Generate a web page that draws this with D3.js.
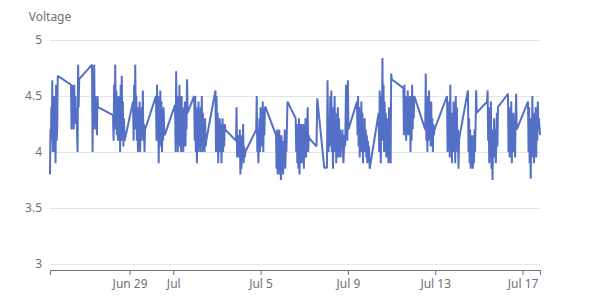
<!DOCTYPE html>
<html>
<head>
<meta charset="utf-8">
<script src="https://cdn.jsdelivr.net/npm/d3@7"></script>
<style>
  body { margin: 0; background: #fff; }
  svg text { font-family: "Noto Sans", sans-serif; }
</style>
</head>
<body>
<div id="vis"></div>
<script>
// readings: [hours since startDate, voltage]
let startDate = new Date(2023, 5, 25, 0, 0)

let readings = [
  [8.5,3.8],[9.0,4.2],[9.5,4.1],[10,4.4],[10.5,4.1],[11,4.64],[11.5,4.0],[12,4.3],[12.5,4.1],[13,4.5],[13.5,4.0],[14,4.35],[14.6,3.9],[15.2,4.6],[15.8,4.1],[16.4,4.2],[17,4.68],
  [31.6,4.6],[32.2,4.2],[32.8,4.6],[33.4,4.25],[34,4.55],[34.6,4.2],[35.2,4.6],[35.8,4.3],[36.4,4.5],[37,4.25],[37.6,4.4],[38.2,4.2],[38.8,4.0],[39.4,4.78],[40,4.4],[40.6,4.65],
  [54.7,4.78],[55.3,4.0],[55.9,4.5],[56.5,4.2],[57.1,4.78],[57.7,4.3],[58.3,4.5],[58.9,4.2],[59.5,4.45],[60.1,4.15],[60.7,4.5],[61.3,4.4],
  [77.8,4.33],[78.4,4.1],[79,4.6],[79.6,4.2],[80.2,4.78],[80.8,4.3],[81.4,4.55],[82,4.15],[82.6,4.45],[83.2,4.1],[83.8,4.5],[84.4,4.2],[85,4.4],[85.6,4.0],[86.2,4.6],[86.8,4.1],[87.4,4.68],[88,4.2],[88.6,4.45],[89.2,4.05],[89.8,4.3],[90.5,4.1],
  [99.8,4.45],[100.4,4.1],[101,4.6],[101.6,4.2],[102.2,4.78],[102.8,4.3],[103.4,4.5],[104,4.1],[104.6,4.4],[105.2,4.0],[105.8,4.3],[106.4,4.05],[107,4.45],[107.6,4.0],[108.2,4.3],[108.8,4.1],[109.4,4.4],[110,4.2],[110.6,4.55],[111.2,4.1],[111.8,4.25],[112.4,4.0],[113,4.2],
  [125,4.5],[125.6,4.1],[126.2,4.6],[126.8,4.2],[127.4,4.5],[128,3.9],[128.6,4.4],[129.2,4.05],[129.8,4.55],[130.4,4.15],[131,4.45],[131.6,4.0],[132.2,4.3],[132.8,4.1],[133.4,4.4],[134,4.2],[134.6,4.15],
  [146,4.42],[146.6,4.0],[147.2,4.72],[147.8,4.2],[148.4,4.5],[149,4.0],[149.6,4.4],[150.2,4.1],[150.8,4.6],[151.4,4.05],[152,4.35],[152.6,4.0],[153.2,4.5],[153.8,4.2],[154.4,4.4],[155,4.0],[155.6,4.3],[156.2,4.1],[156.8,4.45],[157.4,4.05],[158,4.3],[158.6,4.2],[159.2,4.65],[159.8,4.35],
  [167,4.5],[167.6,4.1],[168.2,4.5],[168.8,4.0],[169.4,4.4],[170,3.9],[170.6,4.3],[171.2,4.0],[171.8,4.45],[172.4,4.05],[173,4.3],[173.6,4.0],[174.2,4.4],[174.8,4.1],[175.4,4.5],[176,4.0],[176.6,4.35],[177.2,4.05],[177.8,4.2],[178.4,4.0],[179,4.3],[179.6,4.05],[180.2,4.1],
  [190.4,4.55],[191,4.0],[191.6,4.5],[192.2,4.1],[192.8,4.35],[193.4,3.9],[194,4.2],[194.6,4.0],[195.2,4.3],[195.8,4.05],[196.4,4.25],[197,3.9],[197.6,4.1],[198.2,4.3],[198.8,4.0],[199.4,4.2],[200,4.05],[200.6,4.25],[201.2,4.2],
  [213,4.1],[213.6,4.4],[214.2,3.95],[214.8,4.1],[215.4,4.05],[216,4.15],[216.6,3.95],[217.2,4.2],[217.8,3.8],[218.4,4.1],[219,3.85],[219.6,4.15],[220.2,4.0],[220.8,4.25],[221.4,3.9],[222,4.05],[222.6,3.95],[223.2,4.0],
  [235.2,4.2],[235.8,4.5],[236.4,4.0],[237,4.2],[237.6,3.9],[238.2,4.1],[238.8,4.3],[239.4,4.0],[240,4.4],[240.6,4.05],[241.2,4.3],[241.8,4.1],[242.4,4.45],[243,4.0],[243.6,4.35],[244.2,4.15],[244.8,4.4],[245.4,4.4],
  [257,4.15],[257.6,3.85],[258.2,4.2],[258.8,3.8],[259.4,4.1],[260,3.85],[260.6,4.2],[261.2,3.8],[261.8,4.05],[262.4,3.75],[263,4.15],[263.6,3.85],[264.2,4.0],[264.8,3.8],[265.4,4.1],[266,3.9],[266.6,4.2],[267.2,3.85],[267.8,4.1],[268.4,4.0],[269.6,4.45],
  [278.6,4.3],[279.2,4.0],[279.8,4.25],[280.4,3.9],[281,4.2],[281.6,3.85],[282.2,4.3],[282.8,3.8],[283.4,4.1],[284,3.95],[284.6,4.25],[285.2,3.9],[285.8,4.2],[286.4,4.0],[287,4.25],[287.6,3.85],[288.2,4.15],[288.8,4.05],[289.4,4.3],[290,3.95],[290.6,4.2],[291.2,4.1],[291.8,4.4],[292.4,4.0],[293,4.15],[293.6,4.12],
  [301.5,4.05],[302.3,4.48],[310,3.86],[313,3.86],
  [313.6,4.64],[314.2,4.2],[314.8,4.0],[315.4,4.3],[316,4.05],[316.6,4.5],[317.2,4.1],[317.8,4.55],[318.4,4.0],[319,4.4],[319.6,3.85],[320.2,4.3],[320.8,4.0],[321.4,4.5],[322,4.1],[322.6,4.35],[323.2,3.9],[323.8,4.25],[324.4,4.0],[325,4.4],[325.6,3.95],[326.2,4.3],[326.8,4.05],[327.4,4.2],[328,3.95],[328.6,4.15],[329.2,4.05],
  [330,4.2],[331,3.9],[332.4,4.15],[333,4.05],[334,4.6],[335.4,4.1],[336,4.64],[336.6,4.2],
  [346,4.45],[346.6,4.15],[347.2,4.5],[347.8,4.05],[348.4,4.4],[349,3.95],[349.6,4.3],[350.2,4.0],[350.8,4.45],[351.4,4.1],[352,4.35],[352.6,3.9],[353.2,4.25],[353.8,4.0],[354.4,4.3],[355,4.05],[355.6,4.2],[356.2,3.95],[356.8,4.15],[357.4,3.9],[358,4.1],[358.6,3.95],[359.2,4.05],[360,3.85],
  [369.8,4.35],[370.4,4.0],[371,4.55],[371.6,4.1],[372.2,3.9],[372.8,4.5],[373.4,4.2],[374,4.84],[374.6,4.1],[375.2,4.6],[375.8,4.0],[376.4,4.45],[377,4.1],[377.6,4.35],[378.2,3.95],[378.8,4.3],[379.4,4.05],[380,4.25],[380.6,3.9],[381.2,4.4],[381.8,4.1],[382.4,4.2],[383,3.9],[383.6,4.7],[384.2,4.65],
  [397,4.57],[397.6,4.15],[398.2,4.6],[398.8,4.2],[399.4,4.5],[400,4.1],[400.6,4.4],[401.2,4.2],[401.8,4.55],[402.4,4.15],[403,4.35],[403.6,4.2],[404.2,4.5],[404.8,4.0],[405.4,4.3],[406,4.1],[406.6,4.6],[407.2,4.2],[407.8,4.45],[408.4,4.3],[409,4.5],
  [421,4.2],[421.6,4.7],[422.2,4.1],[422.8,4.5],[423.4,4.0],[424,4.4],[424.6,4.1],[425.2,4.55],[425.8,4.15],[426.4,4.3],[427,4.05],[427.6,4.45],[428.2,4.1],[428.8,4.3],[429.4,4.0],[430,4.25],[430.6,4.15],[431.2,4.2],
  [445,4.5],[445.6,4.0],[446.2,4.4],[446.8,4.1],[447.4,4.45],[448,3.95],[448.6,4.6],[449.2,4.05],[449.8,4.35],[450.4,3.9],[451,4.3],[451.6,4.0],[452.2,4.45],[452.8,4.1],[453.4,4.3],[454,3.9],[454.6,4.5],[455.2,4.05],[455.8,4.4],[456.4,4.0],[457,4.2],[457.6,3.85],[458.2,4.1],[459,4.15],
  [468,4.55],[468.6,4.0],[469.2,4.3],[469.8,3.9],[470.4,4.2],[471,3.85],[471.6,4.1],[472.2,3.9],[472.8,4.15],[473.4,3.85],[474,4.05],[474.6,3.9],[475.2,4.2],[475.8,4.0],[476.4,4.25],[477,4.55],[477.6,4.35],
  [489,4.45],[489.6,4.55],[490.2,4.1],[490.8,4.4],[491.4,3.9],[492,4.3],[492.6,4.0],[493.2,4.45],[493.8,3.85],[494.4,4.2],[495,3.75],[495.6,4.1],[496.2,3.95],[496.8,4.3],[497.4,4.0],[498,4.2],[498.6,3.9],[499.2,4.1],[499.8,4.35],[500.4,4.05],[501,4.4],
  [512,4.52],[512.6,4.0],[513.2,4.4],[513.8,3.95],[514.4,4.3],[515,4.05],[515.6,4.45],[516.2,3.9],[516.8,4.25],[517.4,4.0],[518,4.35],[518.6,4.1],[519.2,4.2],[519.8,3.95],[520.4,4.3],[521,4.52],[521.6,4.2],
  [534,4.45],[534.6,4.0],[535.2,4.4],[535.8,3.9],[536.4,4.3],[537,3.76],[537.6,4.2],[538.2,3.95],[538.8,4.5],[539.4,4.0],[540,4.35],[540.6,3.9],[541.2,4.25],[541.8,4.05],[542.4,4.4],[543,3.95],[543.6,4.3],[544.2,4.1],[544.8,4.45],[545.4,4.2],[546,4.3],[547.2,4.15]
]

let tickDates = [new Date(2023,5,29), new Date(2023,6,1), new Date(2023,6,5), new Date(2023,6,9), new Date(2023,6,13), new Date(2023,6,17)]
let yTicks = [3, 3.5, 4, 4.5, 5]
let yName = 'Voltage'

let data = readings.map(d => ({
  time: d3.timeHour.offset(startDate, 0).getTime() + d[0] * 3600 * 1000,
  value: d[1]
}))

let margin = {top: 40, right: 60, bottom: 30, left: 50},
    width = 600 - margin.left - margin.right,
    height = 300 - margin.top - margin.bottom

let svg = d3.select('#vis')
  .append('svg')
  .attr('width', 600)
  .attr('height', 300)

let g = svg.append('g')
  .attr('transform', `translate(${margin.left},${margin.top})`)

let xScale = d3.scaleTime()
  .domain(d3.extent(data, d => d.time))
  .range([0, width])

let yScale = d3.scaleLinear()
  .domain([2.946, 5])
  .range([height, 0])

// grid lines
g.selectAll('.grid')
  .data(yTicks)
  .join('line')
  .attr('class', 'grid')
  .attr('x1', 0)
  .attr('x2', width)
  .attr('y1', d => Math.round(yScale(d)) + 0.5)
  .attr('y2', d => Math.round(yScale(d)) + 0.5)
  .attr('stroke', '#E0E6F1')

// y labels
g.selectAll('.ylab')
  .data(yTicks)
  .join('text')
  .attr('class', 'ylab')
  .attr('x', -8)
  .attr('y', d => yScale(d))
  .attr('dy', '0.35em')
  .attr('text-anchor', 'end')
  .attr('font-size', 12)
  .attr('fill', '#6E7079')
  .text(d => d)

g.append('text')
  .attr('x', 0)
  .attr('y', -19)
  .attr('text-anchor', 'middle')
  .attr('font-size', 12)
  .attr('fill', '#6E7079')
  .text(yName)

// x axis
let fmt = d => d.getDate() === 1 ? d3.timeFormat('%b')(d) : d3.timeFormat('%b %-d')(d)
let xAxis = g.append('g')
  .attr('transform', `translate(0,${height})`)
  .call(d3.axisBottom(xScale).tickValues(tickDates).tickFormat(fmt).tickSizeOuter(0).tickSize(5).tickPadding(4))

xAxis.select('.domain').attr('stroke', '#6E7079')
xAxis.selectAll('.tick line').attr('stroke', '#6E7079')
xAxis.selectAll('.tick text')
  .attr('fill', '#6E7079')
  .attr('font-size', 12)
  .attr('font-family', '"Noto Sans", sans-serif')

let line = d3.line()
  .x(d => xScale(d.time))
  .y(d => yScale(d.value))

g.append('path')
  .datum(data)
  .attr('d', line)
  .attr('fill', 'none')
  .attr('stroke', '#5470c6')
  .attr('stroke-width', 2)
  .attr('stroke-linejoin', 'bevel')
</script>
</body>
</html>
